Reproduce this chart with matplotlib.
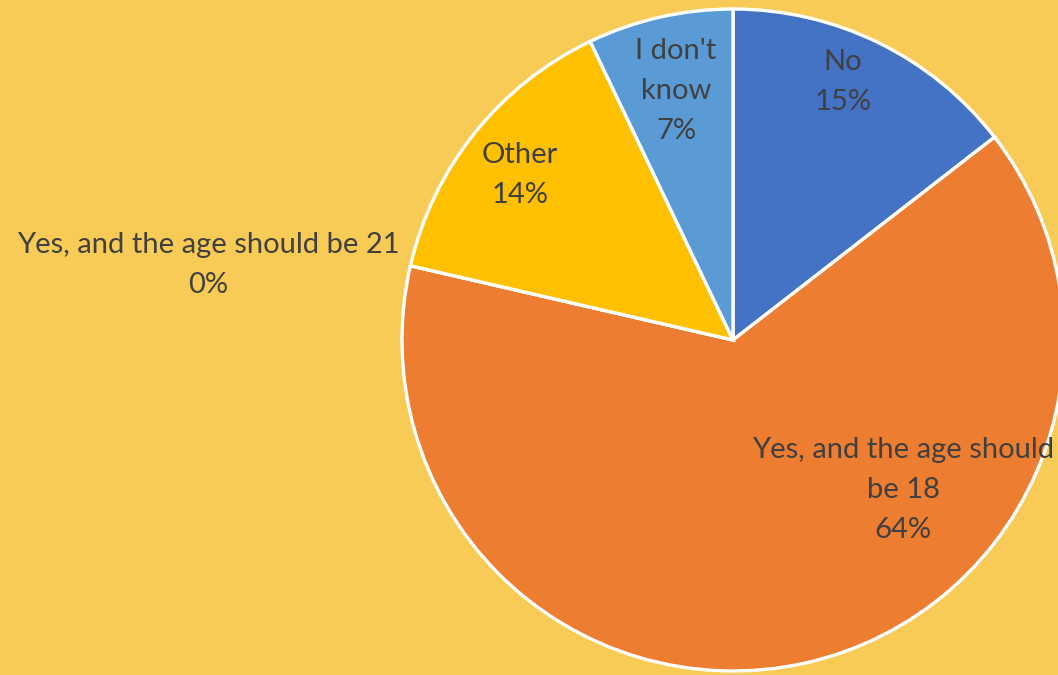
import matplotlib
matplotlib.use("Agg")
import matplotlib.pyplot as plt

# Survey responses (share of respondents, %)
categories = ["No", "Yes, and the age should be 18", "Yes, and the age should be 21",
              "Other", "I don't know"]
shares = [14.5, 64.1, 0.0, 14.3, 7.1]
slice_colors = ["#4472C4", "#ED7D31", "#A5A5A5", "#FFC000", "#5B9BD5"]

# Label text (category line breaks) and label anchor points in data units
label_names = ["No", "Yes, and the age should\nbe 18", "Yes, and the age should be 21",
               "Other", "I don't\nknow"]
label_xy = [(0.332, 0.779), (0.514, -0.453), (-1.586, 0.227),
            (-0.644, 0.498), (-0.172, 0.752)]

BG = "#F7CB55"
TEXT = "#404040"

fig = plt.figure(figsize=(10.58, 6.75), dpi=100, facecolor=BG)
ax = fig.add_axes([0, 0, 1, 1])
ax.set_facecolor(BG)

ax.pie(shares, colors=slice_colors, startangle=90, counterclock=False,
       radius=1.0, center=(0, 0), frame=False,
       wedgeprops=dict(edgecolor="white", linewidth=2.4))

# Map data units to pixels: 1 unit = 331 px, pie centre at (733, 340)
px = 331.0
ax.set_xlim(-733 / px, (1058 - 733) / px)
ax.set_ylim(-(675 - 340) / px, 340 / px)
ax.set_aspect("auto")
ax.axis("off")

for name, val, (x, y) in zip(label_names, shares, label_xy):
    pct = int(val + 0.5)
    ax.text(x, y, f"{name}\n{pct}%", ha="center", va="center",
            fontsize=21, color=TEXT, family="Lato", linespacing=1.65)

fig.savefig("out.png", dpi=100, facecolor=BG)
